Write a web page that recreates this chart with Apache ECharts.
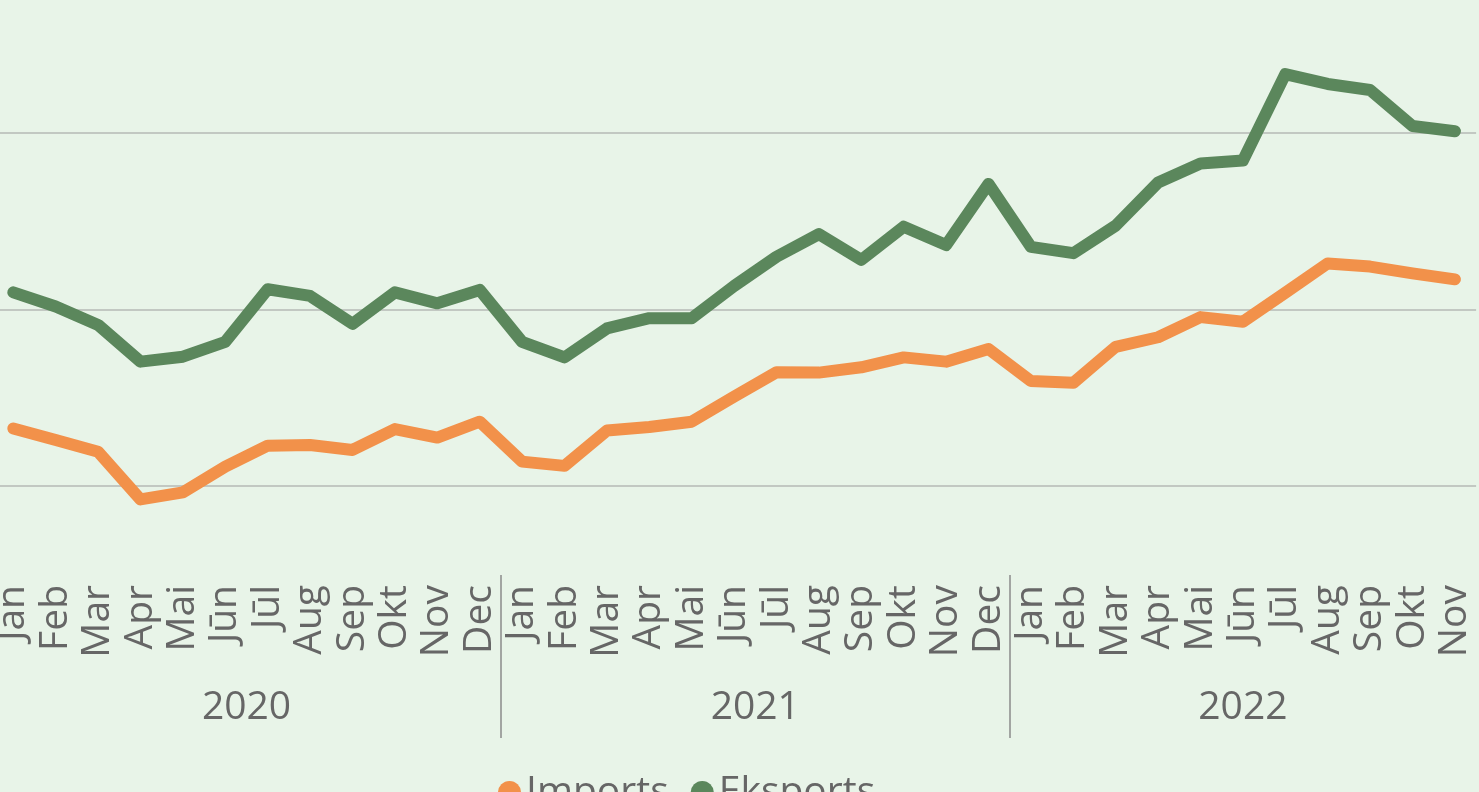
<!DOCTYPE html>
<html>
<head>
<meta charset="utf-8">
<script src="https://cdn.jsdelivr.net/npm/echarts@6/dist/echarts.min.js"></script>
<style>
html,body{margin:0;padding:0;background:#e8f4e8;overflow:hidden;width:1479px;height:792px;}
#c{position:absolute;left:-40px;top:-80px;width:1519px;height:872px;}
</style>
</head>
<body>
<div id="c"></div>
<script>
const months = ['Jan','Feb','Mar','Apr','Mai','Jūn','Jūl','Aug','Sep','Okt','Nov','Dec',
                'Jan','Feb','Mar','Apr','Mai','Jūn','Jūl','Aug','Sep','Okt','Nov','Dec',
                'Jan','Feb','Mar','Apr','Mai','Jūn','Jūl','Aug','Sep','Okt','Nov'];
const years = ['2020','2021','2022'];
const monthsPerYear = [12, 12, 11];
const seriesNames = ['Imports', 'Eksports'];
const imports = [1163,1130,1097,962,982,1055,1114,1116,1102,1161,1137,1182,
                 1069,1057,1157,1167,1182,1253,1322,1321,1336,1364,1352,1388,
                 1297,1292,1394,1421,1478,1465,1547,1630,1621,1602,1585];
const eksports = [1548,1508,1456,1352,1366,1408,1557,1538,1459,1548,1517,1555,
                  1408,1364,1446,1475,1475,1566,1649,1713,1640,1734,1682,1855,
                  1677,1659,1737,1859,1913,1921,2166,2138,2121,2019,2004];

const yearCenters = [], yearSeparators = [];
let start = 0;
monthsPerYear.forEach((n, i) => {
  yearCenters.push(start + n / 2 - 0.5);
  if (i > 0) yearSeparators.push(start - 0.5);
  start += n;
});

// container is shifted by (-40, -80) so the crop of the original chart can be reproduced
const DX = 40, DY = 80, H = 872;
const FONT = 'Open Sans';
const chart = echarts.init(document.getElementById('c'));
const gridTopPx = -43.95 + DY, gridBottomPx = 662.65 + DY;
const axisY = 575 + DY;
const off = -(gridBottomPx - axisY);

chart.setOption({
  backgroundColor: '#e8f4e8',
  animation: false,
  legend: {
    data: seriesNames,
    left: 498 + DX,
    top: 773 + DY,
    icon: 'circle',
    itemWidth: 23,
    itemHeight: 23,
    itemGap: 22,
    padding: 0,
    textStyle: { fontFamily: FONT, fontSize: 39, color: '#666666', padding: [12, 0, 0, 0] }
  },
  grid: {
    left: -7.9 + DX,
    right: 2.9,
    top: gridTopPx,
    bottom: H - gridBottomPx,
    containLabel: false
  },
  xAxis: [
    {
      type: 'category',
      data: months,
      boundaryGap: true,
      position: 'bottom',
      offset: off,
      axisLine: { show: false },
      axisTick: { show: false },
      splitLine: { show: false },
      axisLabel: {
        interval: 0,
        rotate: 90,
        margin: 10,
        fontFamily: FONT,
        fontSize: 39,
        color: '#666666'
      }
    },
    {
      type: 'value',
      min: -0.5,
      max: months.length - 0.5,
      position: 'bottom',
      offset: off,
      axisLine: { show: false },
      splitLine: { show: false },
      axisTick: {
        show: true,
        customValues: yearSeparators,
        length: 163,
        lineStyle: { color: '#8a8a8a', width: 1.5 }
      },
      axisLabel: {
        customValues: yearCenters,
        margin: 113,
        fontFamily: FONT,
        fontSize: 39,
        color: '#666666',
        formatter: function (v) {
          for (let i = 0; i < yearCenters.length; i++) {
            if (Math.abs(yearCenters[i] - v) < 1e-6) return years[i];
          }
          return '';
        }
      }
    }
  ],
  yAxis: {
    type: 'value',
    min: 500,
    max: 2500,
    interval: 500,
    axisLine: { show: false },
    axisTick: { show: false },
    axisLabel: { show: false },
    splitLine: {
      show: true,
      showMinLine: false,
      showMaxLine: false,
      lineStyle: { color: '#b6bab6', width: 1.6 }
    }
  },
  series: [
    {
      name: seriesNames[0],
      type: 'line',
      data: imports,
      symbol: 'none',
      itemStyle: { color: '#f2914a' },
      lineStyle: { color: '#f2914a', width: 12, cap: 'round', join: 'round' }
    },
    {
      name: seriesNames[1],
      type: 'line',
      data: eksports,
      symbol: 'none',
      itemStyle: { color: '#5b875c' },
      lineStyle: { color: '#5b875c', width: 12, cap: 'round', join: 'round' }
    }
  ]
});
</script>
</body>
</html>
